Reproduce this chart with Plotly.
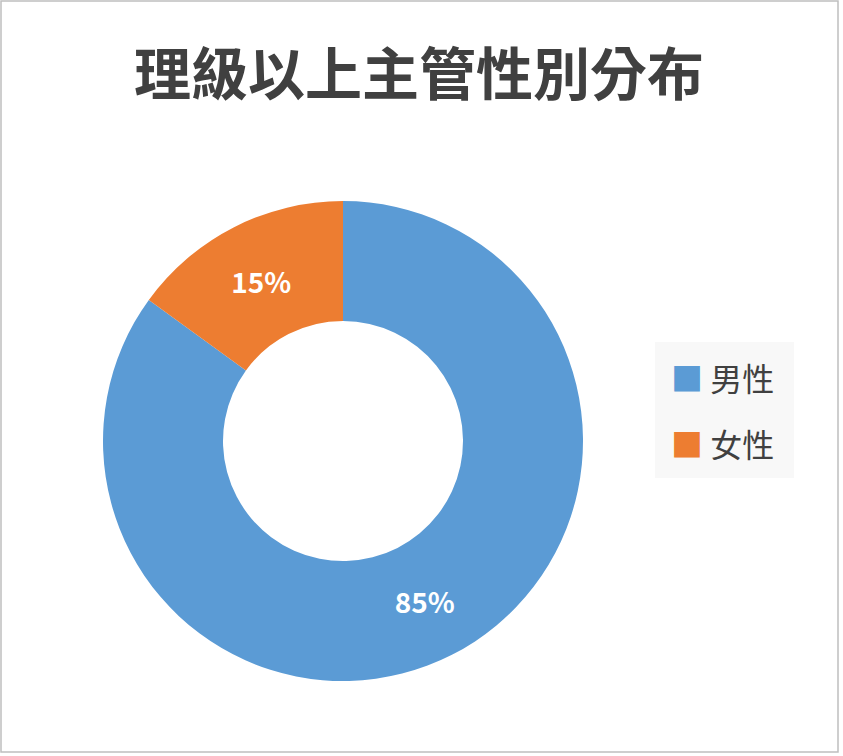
import plotly.graph_objects as go

# data
labels = ["男性", "女性"]
values = [85, 15]
colors = ["#5B9BD5", "#ED7D31"]
title_text = "理級以上主管性別分布"

W, H = 843, 756
FONT = "Noto Sans CJK TC"

fig = go.Figure()

fig.add_trace(
    go.Pie(
        labels=labels,
        values=values,
        hole=0.5,
        sort=False,
        direction="clockwise",
        rotation=0,
        marker=dict(colors=colors, line=dict(width=0)),
        texttemplate="%{percent:.0%}",
        textposition="inside",
        insidetextorientation="horizontal",
        textfont=dict(family=FONT, size=28, color="white", weight="bold"),
        showlegend=False,
        hoverinfo="label+percent",
        domain=dict(x=[103 / W, 583 / W], y=[1 - 681 / H, 1 - 201 / H]),
    )
)

# legend box, drawn by hand so the colour squares match the original size
fig.add_shape(
    type="rect", xref="paper", yref="paper",
    x0=655 / W, x1=794 / W, y0=1 - 478 / H, y1=1 - 342 / H,
    fillcolor="#F8F8F8", line=dict(width=0), layer="below",
)
for i, (lab, col) in enumerate(zip(labels, colors)):
    fig.add_annotation(
        xref="paper", yref="paper",
        x=669 / W, y=1 - (377 + i * 66) / H,
        xanchor="left", yanchor="middle",
        text=f"<span style='color:{col}'>■</span> {lab}",
        showarrow=False,
        font=dict(family=FONT, size=32, color="#404040"),
    )

# outer chart border
fig.add_shape(
    type="rect", xref="paper", yref="paper",
    x0=1 / W, x1=838 / W, y0=1 - 752 / H, y1=1 - 1 / H,
    line=dict(color="#BFBFBF", width=1.5),
)

fig.update_layout(
    width=W,
    height=H,
    margin=dict(l=0, r=0, t=0, b=0),
    paper_bgcolor="white",
    title=dict(
        text=title_text,
        x=0.497, xanchor="center",
        y=1 - 75 / H, yanchor="middle",
        font=dict(family=FONT, size=57, color="#404040", weight="bold"),
    ),
)

# drop the page's default body margin so the chart sits at the window corner
fig.write_html(
    "out.html",
    config={"displayModeBar": False},
    post_script="document.body.style.margin='0';",
)
